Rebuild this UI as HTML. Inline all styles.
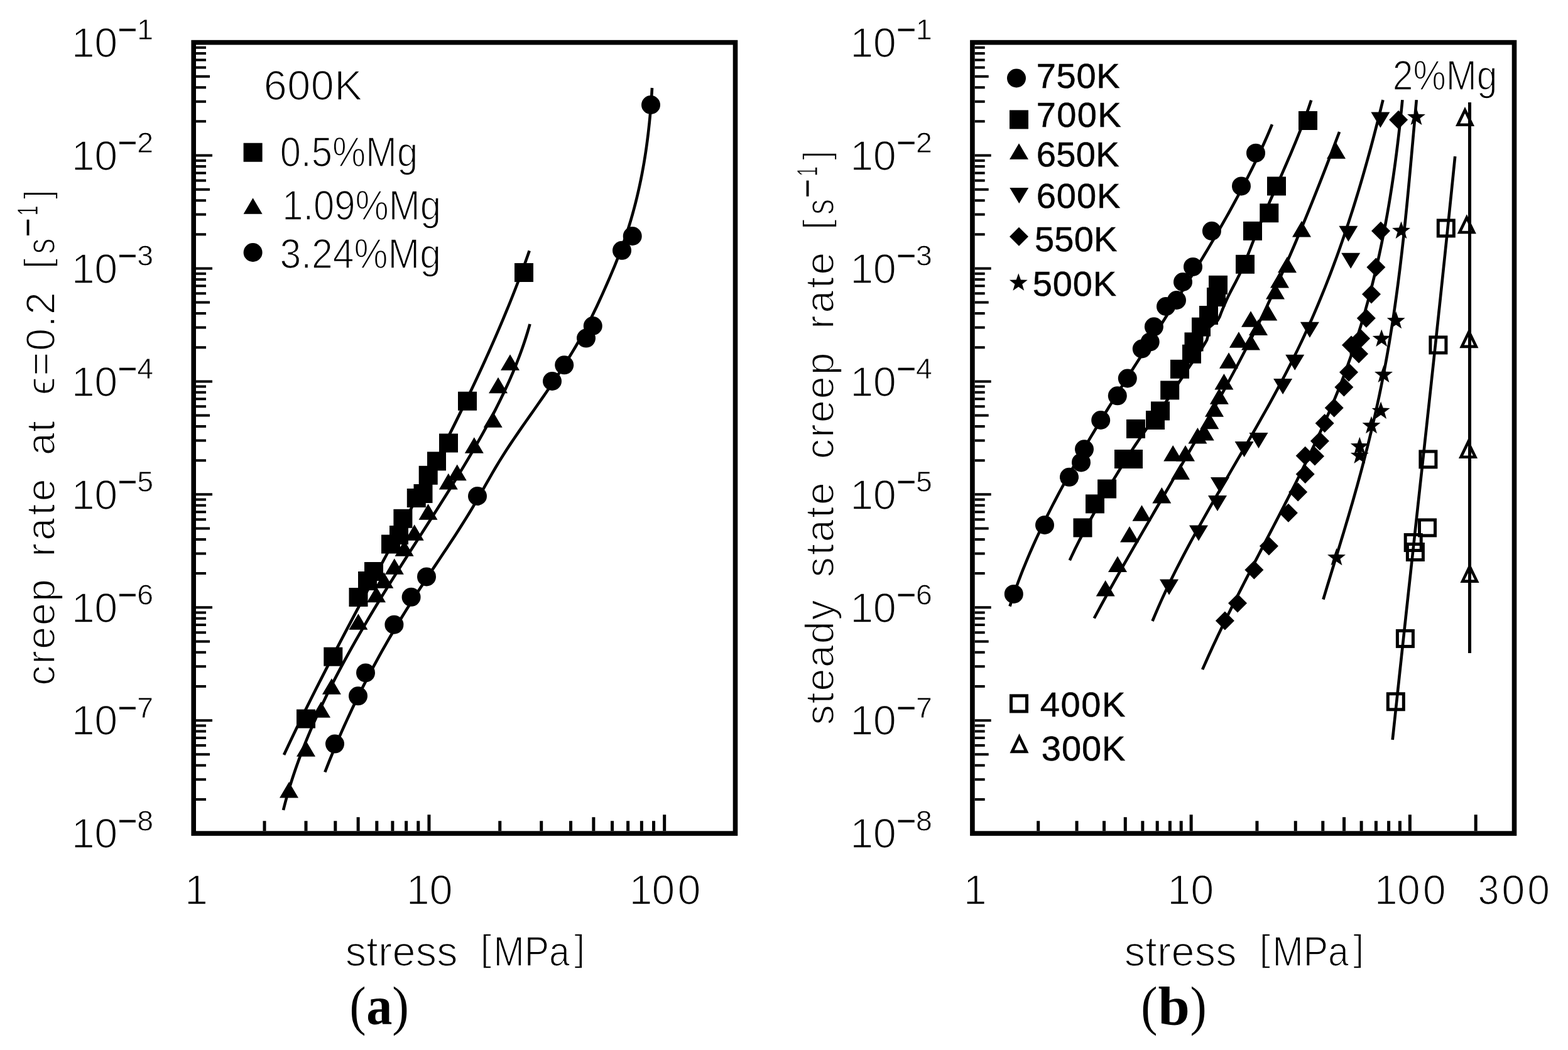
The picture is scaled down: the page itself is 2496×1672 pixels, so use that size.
<!DOCTYPE html><html><head><meta charset="utf-8"><style>html,body{margin:0;padding:0;background:#fff}svg{display:block}</style></head><body><svg width="2496" height="1672" viewBox="0 0 2496 1672">
<style>text{font-family:"Liberation Sans",Arial,sans-serif;fill:#000;font-kerning:none;font-variant-ligatures:none}.thin{stroke:#fff;stroke-width:1.7px}.thins{stroke:#fff;stroke-width:0.8px}.bold{font-family:"Liberation Serif","Times New Roman",serif;font-weight:bold}.ser{font-family:"Liberation Serif","Times New Roman",serif}.thick{stroke:#000;stroke-width:0.4px}.reg{stroke:#000;stroke-width:0.5px}</style>
<rect width="2496" height="1672" fill="#fff"/>
<rect x="308.2" y="67.6" width="862.3" height="1259.5" fill="none" stroke="#000" stroke-width="7.6"/>
<rect x="1547.9" y="67.6" width="862.6" height="1259.5" fill="none" stroke="#000" stroke-width="7.6"/>
<path d="M312 1272.94h16M312 1241.25h16M312 1218.77h16M312 1201.34h22M312 1187.09h16M312 1175.04h16M312 1164.61h16M312 1155.4h16M312 1147.17h26M312 1093.01h16M312 1061.32h16M312 1038.84h16M312 1021.41h22M312 1007.16h16M312 995.11h16M312 984.68h16M312 975.48h16M312 967.24h26M312 913.08h16M312 881.4h16M312 858.92h16M312 841.48h22M312 827.23h16M312 815.19h16M312 804.75h16M312 795.55h16M312 787.31h26M312 733.15h16M312 701.47h16M312 678.99h16M312 661.55h22M312 647.3h16M312 635.26h16M312 624.82h16M312 615.62h16M312 607.39h26M312 553.22h16M312 521.54h16M312 499.06h16M312 481.62h22M312 467.37h16M312 455.33h16M312 444.89h16M312 435.69h16M312 427.46h26M312 373.29h16M312 341.61h16M312 319.13h16M312 301.69h22M312 287.45h16M312 275.4h16M312 264.97h16M312 255.76h16M312 247.53h26M312 193.36h16M312 161.68h16M312 139.2h16M312 121.76h22M312 107.52h16M312 95.47h16M312 85.04h16M312 75.83h16" stroke="#000" stroke-width="4" fill="none"/>
<path d="M1551.7 1272.94h16M1551.7 1241.25h16M1551.7 1218.77h16M1551.7 1201.34h22M1551.7 1187.09h16M1551.7 1175.04h16M1551.7 1164.61h16M1551.7 1155.4h16M1551.7 1147.17h26M1551.7 1093.01h16M1551.7 1061.32h16M1551.7 1038.84h16M1551.7 1021.41h22M1551.7 1007.16h16M1551.7 995.11h16M1551.7 984.68h16M1551.7 975.48h16M1551.7 967.24h26M1551.7 913.08h16M1551.7 881.4h16M1551.7 858.92h16M1551.7 841.48h22M1551.7 827.23h16M1551.7 815.19h16M1551.7 804.75h16M1551.7 795.55h16M1551.7 787.31h26M1551.7 733.15h16M1551.7 701.47h16M1551.7 678.99h16M1551.7 661.55h22M1551.7 647.3h16M1551.7 635.26h16M1551.7 624.82h16M1551.7 615.62h16M1551.7 607.39h26M1551.7 553.22h16M1551.7 521.54h16M1551.7 499.06h16M1551.7 481.62h22M1551.7 467.37h16M1551.7 455.33h16M1551.7 444.89h16M1551.7 435.69h16M1551.7 427.46h26M1551.7 373.29h16M1551.7 341.61h16M1551.7 319.13h16M1551.7 301.69h22M1551.7 287.45h16M1551.7 275.4h16M1551.7 264.97h16M1551.7 255.76h16M1551.7 247.53h26M1551.7 193.36h16M1551.7 161.68h16M1551.7 139.2h16M1551.7 121.76h22M1551.7 107.52h16M1551.7 95.47h16M1551.7 85.04h16M1551.7 75.83h16" stroke="#000" stroke-width="4" fill="none"/>
<path d="M421.01 1323.3v-16M487 1323.3v-16M533.82 1323.3v-16M570.14 1323.3v-22M599.81 1323.3v-16M624.9 1323.3v-16M646.63 1323.3v-16M665.8 1323.3v-16M682.95 1323.3v-26M795.75 1323.3v-16M861.74 1323.3v-16M908.56 1323.3v-16M944.88 1323.3v-22M974.55 1323.3v-16M999.64 1323.3v-16M1021.37 1323.3v-16M1040.54 1323.3v-16M1057.69 1323.3v-26" stroke="#000" stroke-width="5" fill="none"/>
<path d="M1652.73 1323.3v-16M1714.05 1323.3v-16M1757.55 1323.3v-16M1791.3 1323.3v-22M1818.87 1323.3v-16M1842.19 1323.3v-16M1862.38 1323.3v-16M1880.19 1323.3v-16M1896.13 1323.3v-26M2000.95 1323.3v-16M2062.27 1323.3v-16M2105.78 1323.3v-16M2139.53 1323.3v-22M2167.1 1323.3v-16M2190.41 1323.3v-16M2210.61 1323.3v-16M2228.42 1323.3v-16M2244.35 1323.3v-26M2349.18 1323.3v-26" stroke="#000" stroke-width="5" fill="none"/>
<text x="113.74" y="90.9" font-size="66.5" class="thin">1</text>
<text x="150.2" y="90.9" font-size="66.5" class="thin" textLength="37" lengthAdjust="spacingAndGlyphs">0</text>
<text x="187.6" y="63.3" font-size="46.5" class="thick" textLength="30.77" lengthAdjust="spacingAndGlyphs">−</text>
<text x="231.3" y="63.3" font-size="46.5" class="thins" text-anchor="middle">1</text>
<text x="113.74" y="270.83" font-size="66.5" class="thin">1</text>
<text x="150.2" y="270.83" font-size="66.5" class="thin" textLength="37" lengthAdjust="spacingAndGlyphs">0</text>
<text x="187.6" y="243.23" font-size="46.5" class="thick" textLength="30.77" lengthAdjust="spacingAndGlyphs">−</text>
<text x="231.3" y="243.23" font-size="46.5" class="thins" text-anchor="middle">2</text>
<text x="113.74" y="450.76" font-size="66.5" class="thin">1</text>
<text x="150.2" y="450.76" font-size="66.5" class="thin" textLength="37" lengthAdjust="spacingAndGlyphs">0</text>
<text x="187.6" y="423.16" font-size="46.5" class="thick" textLength="30.77" lengthAdjust="spacingAndGlyphs">−</text>
<text x="231.3" y="423.16" font-size="46.5" class="thins" text-anchor="middle">3</text>
<text x="113.74" y="630.69" font-size="66.5" class="thin">1</text>
<text x="150.2" y="630.69" font-size="66.5" class="thin" textLength="37" lengthAdjust="spacingAndGlyphs">0</text>
<text x="187.6" y="603.09" font-size="46.5" class="thick" textLength="30.77" lengthAdjust="spacingAndGlyphs">−</text>
<text x="231.3" y="603.09" font-size="46.5" class="thins" text-anchor="middle">4</text>
<text x="113.74" y="810.61" font-size="66.5" class="thin">1</text>
<text x="150.2" y="810.61" font-size="66.5" class="thin" textLength="37" lengthAdjust="spacingAndGlyphs">0</text>
<text x="187.6" y="783.01" font-size="46.5" class="thick" textLength="30.77" lengthAdjust="spacingAndGlyphs">−</text>
<text x="231.3" y="783.01" font-size="46.5" class="thins" text-anchor="middle">5</text>
<text x="113.74" y="990.54" font-size="66.5" class="thin">1</text>
<text x="150.2" y="990.54" font-size="66.5" class="thin" textLength="37" lengthAdjust="spacingAndGlyphs">0</text>
<text x="187.6" y="962.94" font-size="46.5" class="thick" textLength="30.77" lengthAdjust="spacingAndGlyphs">−</text>
<text x="231.3" y="962.94" font-size="46.5" class="thins" text-anchor="middle">6</text>
<text x="113.74" y="1170.47" font-size="66.5" class="thin">1</text>
<text x="150.2" y="1170.47" font-size="66.5" class="thin" textLength="37" lengthAdjust="spacingAndGlyphs">0</text>
<text x="187.6" y="1142.87" font-size="46.5" class="thick" textLength="30.77" lengthAdjust="spacingAndGlyphs">−</text>
<text x="231.3" y="1142.87" font-size="46.5" class="thins" text-anchor="middle">7</text>
<text x="113.74" y="1350.4" font-size="66.5" class="thin">1</text>
<text x="150.2" y="1350.4" font-size="66.5" class="thin" textLength="37" lengthAdjust="spacingAndGlyphs">0</text>
<text x="187.6" y="1322.8" font-size="46.5" class="thick" textLength="30.77" lengthAdjust="spacingAndGlyphs">−</text>
<text x="231.3" y="1322.8" font-size="46.5" class="thins" text-anchor="middle">8</text>
<text x="1353.34" y="90.9" font-size="66.5" class="thin">1</text>
<text x="1389.8" y="90.9" font-size="66.5" class="thin" textLength="37" lengthAdjust="spacingAndGlyphs">0</text>
<text x="1427.2" y="63.3" font-size="46.5" class="thick" textLength="30.77" lengthAdjust="spacingAndGlyphs">−</text>
<text x="1470.9" y="63.3" font-size="46.5" class="thins" text-anchor="middle">1</text>
<text x="1353.34" y="270.83" font-size="66.5" class="thin">1</text>
<text x="1389.8" y="270.83" font-size="66.5" class="thin" textLength="37" lengthAdjust="spacingAndGlyphs">0</text>
<text x="1427.2" y="243.23" font-size="46.5" class="thick" textLength="30.77" lengthAdjust="spacingAndGlyphs">−</text>
<text x="1470.9" y="243.23" font-size="46.5" class="thins" text-anchor="middle">2</text>
<text x="1353.34" y="450.76" font-size="66.5" class="thin">1</text>
<text x="1389.8" y="450.76" font-size="66.5" class="thin" textLength="37" lengthAdjust="spacingAndGlyphs">0</text>
<text x="1427.2" y="423.16" font-size="46.5" class="thick" textLength="30.77" lengthAdjust="spacingAndGlyphs">−</text>
<text x="1470.9" y="423.16" font-size="46.5" class="thins" text-anchor="middle">3</text>
<text x="1353.34" y="630.69" font-size="66.5" class="thin">1</text>
<text x="1389.8" y="630.69" font-size="66.5" class="thin" textLength="37" lengthAdjust="spacingAndGlyphs">0</text>
<text x="1427.2" y="603.09" font-size="46.5" class="thick" textLength="30.77" lengthAdjust="spacingAndGlyphs">−</text>
<text x="1470.9" y="603.09" font-size="46.5" class="thins" text-anchor="middle">4</text>
<text x="1353.34" y="810.61" font-size="66.5" class="thin">1</text>
<text x="1389.8" y="810.61" font-size="66.5" class="thin" textLength="37" lengthAdjust="spacingAndGlyphs">0</text>
<text x="1427.2" y="783.01" font-size="46.5" class="thick" textLength="30.77" lengthAdjust="spacingAndGlyphs">−</text>
<text x="1470.9" y="783.01" font-size="46.5" class="thins" text-anchor="middle">5</text>
<text x="1353.34" y="990.54" font-size="66.5" class="thin">1</text>
<text x="1389.8" y="990.54" font-size="66.5" class="thin" textLength="37" lengthAdjust="spacingAndGlyphs">0</text>
<text x="1427.2" y="962.94" font-size="46.5" class="thick" textLength="30.77" lengthAdjust="spacingAndGlyphs">−</text>
<text x="1470.9" y="962.94" font-size="46.5" class="thins" text-anchor="middle">6</text>
<text x="1353.34" y="1170.47" font-size="66.5" class="thin">1</text>
<text x="1389.8" y="1170.47" font-size="66.5" class="thin" textLength="37" lengthAdjust="spacingAndGlyphs">0</text>
<text x="1427.2" y="1142.87" font-size="46.5" class="thick" textLength="30.77" lengthAdjust="spacingAndGlyphs">−</text>
<text x="1470.9" y="1142.87" font-size="46.5" class="thins" text-anchor="middle">7</text>
<text x="1353.34" y="1350.4" font-size="66.5" class="thin">1</text>
<text x="1389.8" y="1350.4" font-size="66.5" class="thin" textLength="37" lengthAdjust="spacingAndGlyphs">0</text>
<text x="1427.2" y="1322.8" font-size="46.5" class="thick" textLength="30.77" lengthAdjust="spacingAndGlyphs">−</text>
<text x="1470.9" y="1322.8" font-size="46.5" class="thins" text-anchor="middle">8</text>
<text x="293.94" y="1440.2" font-size="66.5" class="thin">1</text>
<text x="646.64" y="1440.2" font-size="66.5" class="thin">1</text>
<text x="683.49" y="1440.2" font-size="66.5" class="thin" textLength="37.11" lengthAdjust="spacingAndGlyphs">0</text>
<text x="1001.44" y="1440.2" font-size="66.5" class="thin">1</text>
<text x="1037.62" y="1440.2" font-size="66.5" class="thin" textLength="36.76" lengthAdjust="spacingAndGlyphs">0</text>
<text x="1078.4" y="1440.2" font-size="66.5" class="thin" textLength="37" lengthAdjust="spacingAndGlyphs">0</text>
<text x="1533.84" y="1440.2" font-size="66.5" class="thin">1</text>
<text x="1858.34" y="1440.2" font-size="66.5" class="thin">1</text>
<text x="1895.19" y="1440.2" font-size="66.5" class="thin" textLength="37.11" lengthAdjust="spacingAndGlyphs">0</text>
<text x="2187.84" y="1440.2" font-size="66.5" class="thin">1</text>
<text x="2224.02" y="1440.2" font-size="66.5" class="thin" textLength="36.76" lengthAdjust="spacingAndGlyphs">0</text>
<text x="2264.8" y="1440.2" font-size="66.5" class="thin" textLength="37" lengthAdjust="spacingAndGlyphs">0</text>
<text x="2352.58" y="1440.2" font-size="66.5" class="thin" textLength="33.9" lengthAdjust="spacingAndGlyphs">3</text>
<text x="2390.19" y="1440.2" font-size="66.5" class="thin" textLength="37.23" lengthAdjust="spacingAndGlyphs">0</text>
<text x="2431.28" y="1440.2" font-size="66.5" class="thin" textLength="35.83" lengthAdjust="spacingAndGlyphs">0</text>
<text x="549.75" y="1538" font-size="66.5" class="thin" letter-spacing="0.3">stress</text>
<text x="764.34" y="1530.4" font-size="58.7" class="thin" textLength="18.17" lengthAdjust="spacingAndGlyphs">[</text>
<text x="785.45" y="1538" font-size="66.5" class="thin" textLength="121.55" lengthAdjust="spacingAndGlyphs">MPa</text>
<text x="914.01" y="1530.4" font-size="58.7" class="thin" textLength="17.48" lengthAdjust="spacingAndGlyphs">]</text>
<text x="1789.75" y="1538" font-size="66.5" class="thin" letter-spacing="0.3">stress</text>
<text x="2004.34" y="1530.4" font-size="58.7" class="thin" textLength="18.17" lengthAdjust="spacingAndGlyphs">[</text>
<text x="2025.45" y="1538" font-size="66.5" class="thin" textLength="121.55" lengthAdjust="spacingAndGlyphs">MPa</text>
<text x="2154.01" y="1530.4" font-size="58.7" class="thin" textLength="17.48" lengthAdjust="spacingAndGlyphs">]</text>
<text x="556.46" y="1630.9" font-size="86.6" class="ser" textLength="26.06" lengthAdjust="spacingAndGlyphs">(</text>
<text x="583.35" y="1630.6" font-size="86" class="bold" textLength="41.09" lengthAdjust="spacingAndGlyphs">a</text>
<text x="624.23" y="1630.9" font-size="86.6" class="ser" textLength="26.58" lengthAdjust="spacingAndGlyphs">)</text>
<text x="1816.14" y="1630.9" font-size="86.6" class="ser" textLength="26.19" lengthAdjust="spacingAndGlyphs">(</text>
<text x="1843.45" y="1630.6" font-size="86" class="bold" textLength="50.43" lengthAdjust="spacingAndGlyphs">b</text>
<text x="1894.47" y="1630.9" font-size="86.6" class="ser" textLength="26.19" lengthAdjust="spacingAndGlyphs">)</text>
<g transform="translate(86.9 0) rotate(-90)">
<text x="-1091.74" y="0" font-size="64.5" class="thin" letter-spacing="2.08">creep</text>
<text x="-886.58" y="0" font-size="64.5" class="thin" letter-spacing="4.34">rate</text>
<text x="-724.94" y="0" font-size="64.5" class="thin" letter-spacing="1.12">at</text>
<text x="-629.02" y="0" font-size="64.5" class="thin" letter-spacing="2.03">ϵ=0.2</text>
<text x="-428.34" y="-7.1" font-size="58.7" class="thin" textLength="16.92" lengthAdjust="spacingAndGlyphs">[</text>
<text x="-404.4" y="0" font-size="64.5" class="thin" textLength="25.23" lengthAdjust="spacingAndGlyphs">s</text>
<text x="-377.32" y="-26.5" font-size="46.5" class="thick" textLength="29.81" lengthAdjust="spacingAndGlyphs">−</text>
<text x="-343.16" y="-26.5" font-size="46.5" class="thins" textLength="15.74" lengthAdjust="spacingAndGlyphs">1</text>
<text x="-317.22" y="-7.1" font-size="58.7" class="thin" textLength="14.96" lengthAdjust="spacingAndGlyphs">]</text>
</g>
<g transform="translate(1327 0) rotate(-90)">
<text x="-1154.5" y="0" font-size="64.5" class="thin" letter-spacing="1.86">steady</text>
<text x="-919.2" y="0" font-size="64.5" class="thin" letter-spacing="2.83">state</text>
<text x="-730.94" y="0" font-size="64.5" class="thin" letter-spacing="2.05">creep</text>
<text x="-523.78" y="0" font-size="64.5" class="thin" letter-spacing="3.67">rate</text>
<text x="-366.04" y="-7.1" font-size="58.7" class="thin" textLength="16.92" lengthAdjust="spacingAndGlyphs">[</text>
<text x="-342.1" y="0" font-size="64.5" class="thin" textLength="25.23" lengthAdjust="spacingAndGlyphs">s</text>
<text x="-315.02" y="-26.5" font-size="46.5" class="thick" textLength="29.81" lengthAdjust="spacingAndGlyphs">−</text>
<text x="-280.86" y="-26.5" font-size="46.5" class="thins" textLength="15.74" lengthAdjust="spacingAndGlyphs">1</text>
<text x="-254.92" y="-7.1" font-size="58.7" class="thin" textLength="14.96" lengthAdjust="spacingAndGlyphs">]</text>
</g>
<text x="419.72" y="159.2" font-size="66.5" class="thin" letter-spacing="0.51">600K</text>
<text x="445.76" y="265.2" font-size="66.5" class="thin" textLength="219.39" lengthAdjust="spacingAndGlyphs">0.5%Mg</text>
<text x="449.14" y="350" font-size="66.5" class="thin" textLength="252.82" lengthAdjust="spacingAndGlyphs">1.09%Mg</text>
<text x="445.39" y="427" font-size="66.5" class="thin" textLength="256.63" lengthAdjust="spacingAndGlyphs">3.24%Mg</text>
<text x="2216.84" y="143" font-size="66.5" class="thin" textLength="166.75" lengthAdjust="spacingAndGlyphs">2%Mg</text>
<text x="1649.73" y="139.8" font-size="56" class="reg" letter-spacing="0.7">750K</text>
<text x="1649.73" y="202.4" font-size="56" class="reg" letter-spacing="1.37">700K</text>
<text x="1649.76" y="264.9" font-size="56" class="reg" letter-spacing="0.36">650K</text>
<text x="1649.76" y="330.8" font-size="56" class="reg" letter-spacing="0.93">600K</text>
<text x="1646.96" y="400.2" font-size="56" class="reg" letter-spacing="0.23">550K</text>
<text x="1643.76" y="470.6" font-size="56" class="reg" letter-spacing="0.86">500K</text>
<text x="1655.81" y="1140.5" font-size="56" class="reg" letter-spacing="1.58">400K</text>
<text x="1657.87" y="1210.7" font-size="56" class="reg" letter-spacing="0.89">300K</text>
<path d="M842.7 399.3 L840.35 406.05 L837.96 412.79 L835.55 419.54 L833.1 426.28 L830.61 433.03 L828.1 439.77 L825.55 446.52 L822.97 453.26 L820.36 460.01 L817.72 466.75 L815.05 473.5 L812.36 480.24 L809.63 486.99 L806.87 493.74 L804.09 500.48 L801.28 507.23 L798.44 513.97 L795.58 520.72 L792.69 527.46 L789.77 534.21 L786.83 540.95 L783.87 547.7 L780.88 554.44 L777.86 561.19 L774.83 567.93 L771.77 574.68 L768.69 581.43 L765.59 588.17 L762.46 594.92 L759.31 601.66 L756.15 608.41 L752.96 615.15 L749.76 621.9 L746.53 628.64 L743.29 635.39 L740.03 642.13 L736.75 648.88 L733.45 655.62 L730.14 662.37 L726.81 669.12 L723.47 675.86 L720.11 682.61 L716.73 689.35 L713.34 696.1 L709.94 702.84 L706.52 709.59 L703.09 716.33 L699.65 723.08 L696.2 729.82 L692.73 736.57 L689.25 743.31 L685.76 750.06 L682.27 756.81 L678.76 763.55 L675.24 770.3 L671.71 777.04 L668.18 783.79 L664.64 790.53 L661.09 797.28 L657.53 804.02 L653.97 810.77 L650.4 817.51 L646.82 824.26 L643.24 831 L639.66 837.75 L636.07 844.49 L632.47 851.24 L628.88 857.99 L625.28 864.73 L621.68 871.48 L618.07 878.22 L614.47 884.97 L610.86 891.71 L607.26 898.46 L603.65 905.2 L600.05 911.95 L596.44 918.69 L592.84 925.44 L589.24 932.18 L585.64 938.93 L582.04 945.68 L578.45 952.42 L574.86 959.17 L571.27 965.91 L567.69 972.66 L564.12 979.4 L560.55 986.15 L556.98 992.89 L553.42 999.64 L549.87 1006.38 L546.33 1013.13 L542.79 1019.87 L539.27 1026.62 L535.75 1033.37 L532.24 1040.11 L528.74 1046.86 L525.25 1053.6 L521.77 1060.35 L518.3 1067.09 L514.85 1073.84 L511.4 1080.58 L507.97 1087.33 L504.55 1094.07 L501.15 1100.82 L497.76 1107.56 L494.38 1114.31 L491.02 1121.06 L487.67 1127.8 L484.34 1134.55 L481.03 1141.29 L477.73 1148.04 L474.45 1154.78 L471.18 1161.53 L467.94 1168.27 L464.71 1175.02 L461.5 1181.76 L458.32 1188.51 L455.15 1195.25 L452 1202" fill="none" stroke="#000" stroke-width="4.6" stroke-linejoin="round" stroke-linecap="butt"/>
<path d="M843.5 516 L841.67 522.5 L839.75 529.01 L837.74 535.51 L835.65 542.02 L833.47 548.52 L831.21 555.03 L828.87 561.53 L826.44 568.03 L823.94 574.54 L821.37 581.04 L818.72 587.55 L816 594.05 L813.21 600.55 L810.35 607.06 L807.42 613.56 L804.43 620.07 L801.37 626.57 L798.25 633.08 L795.07 639.58 L791.84 646.08 L788.55 652.59 L785.2 659.09 L781.8 665.6 L778.35 672.1 L774.85 678.61 L771.3 685.11 L767.71 691.61 L764.07 698.12 L760.39 704.62 L756.67 711.13 L752.91 717.63 L749.11 724.13 L745.28 730.64 L741.41 737.14 L737.52 743.65 L733.59 750.15 L729.63 756.66 L725.65 763.16 L721.65 769.66 L717.62 776.17 L713.57 782.67 L709.5 789.18 L705.41 795.68 L701.3 802.18 L697.19 808.69 L693.06 815.19 L688.91 821.7 L684.76 828.2 L680.61 834.71 L676.45 841.21 L672.28 847.71 L668.11 854.22 L663.94 860.72 L659.78 867.23 L655.62 873.73 L651.46 880.24 L647.31 886.74 L643.17 893.24 L639.04 899.75 L634.92 906.25 L630.81 912.76 L626.72 919.26 L622.65 925.76 L618.6 932.27 L614.56 938.77 L610.55 945.28 L606.56 951.78 L602.6 958.29 L598.65 964.79 L594.73 971.29 L590.84 977.8 L586.97 984.3 L583.13 990.81 L579.31 997.31 L575.53 1003.82 L571.77 1010.32 L568.05 1016.82 L564.36 1023.33 L560.7 1029.83 L557.07 1036.34 L553.48 1042.84 L549.92 1049.34 L546.4 1055.85 L542.91 1062.35 L539.46 1068.86 L536.05 1075.36 L532.69 1081.87 L529.36 1088.37 L526.07 1094.87 L522.82 1101.38 L519.62 1107.88 L516.46 1114.39 L513.35 1120.89 L510.28 1127.39 L507.26 1133.9 L504.28 1140.4 L501.35 1146.91 L498.48 1153.41 L495.65 1159.92 L492.87 1166.42 L490.15 1172.92 L487.48 1179.43 L484.86 1185.93 L482.3 1192.44 L479.79 1198.94 L477.34 1205.45 L474.95 1211.95 L472.61 1218.45 L470.33 1224.96 L468.12 1231.46 L465.96 1237.97 L463.86 1244.47 L461.83 1250.97 L459.86 1257.48 L457.96 1263.98 L456.12 1270.49 L454.35 1276.99 L452.64 1283.5 L451 1290" fill="none" stroke="#000" stroke-width="4.6" stroke-linejoin="round" stroke-linecap="butt"/>
<path d="M1038 140 L1037.46 149.16 L1036.86 158.31 L1036.2 167.47 L1035.46 176.62 L1034.65 185.78 L1033.76 194.93 L1032.79 204.09 L1031.74 213.24 L1030.61 222.4 L1029.39 231.55 L1028.08 240.71 L1026.67 249.87 L1025.17 259.02 L1023.56 268.18 L1021.86 277.33 L1020.04 286.49 L1018.12 295.64 L1016.09 304.8 L1013.94 313.95 L1011.68 323.11 L1009.3 332.26 L1006.79 341.42 L1004.15 350.58 L1001.39 359.73 L998.49 368.89 L995.46 378.04 L992.29 387.2 L988.98 396.35 L985.53 405.51 L981.95 414.66 L978.24 423.82 L974.43 432.97 L970.53 442.13 L966.54 451.29 L962.49 460.44 L958.37 469.6 L954.2 478.75 L949.94 487.91 L945.57 497.06 L941.08 506.22 L936.44 515.37 L931.63 524.53 L926.66 533.68 L921.51 542.84 L916.22 552 L910.77 561.15 L905.19 570.31 L899.47 579.46 L893.63 588.62 L887.68 597.77 L881.62 606.93 L875.46 616.08 L869.22 625.24 L862.89 634.39 L856.5 643.55 L850.08 652.71 L843.64 661.86 L837.22 671.02 L830.83 680.17 L824.49 689.33 L818.25 698.48 L812.1 707.64 L806.09 716.79 L800.23 725.95 L794.55 735.11 L789.05 744.26 L783.7 753.42 L778.45 762.57 L773.26 771.73 L768.08 780.88 L762.87 790.04 L757.59 799.19 L752.19 808.35 L746.67 817.5 L741.02 826.66 L735.26 835.82 L729.42 844.97 L723.49 854.13 L717.5 863.28 L711.47 872.44 L705.39 881.59 L699.29 890.75 L693.18 899.9 L687.08 909.06 L680.99 918.21 L674.94 927.37 L668.93 936.53 L662.98 945.68 L657.11 954.84 L651.31 963.99 L645.59 973.15 L639.96 982.3 L634.4 991.46 L628.93 1000.61 L623.53 1009.77 L618.21 1018.92 L612.97 1028.08 L607.82 1037.24 L602.74 1046.39 L597.73 1055.55 L592.81 1064.7 L587.96 1073.86 L583.19 1083.01 L578.5 1092.17 L573.89 1101.32 L569.35 1110.48 L564.89 1119.63 L560.51 1128.79 L556.21 1137.95 L551.98 1147.1 L547.82 1156.26 L543.74 1165.41 L539.74 1174.57 L535.81 1183.72 L531.96 1192.88 L528.18 1202.03 L524.48 1211.19 L520.85 1220.34 L517.3 1229.5" fill="none" stroke="#000" stroke-width="4.6" stroke-linejoin="round" stroke-linecap="butt"/>
<path d="M2025 198.2 L2022.31 204.65 L2019.58 211.1 L2016.79 217.54 L2013.95 223.99 L2011.06 230.44 L2008.12 236.89 L2005.13 243.34 L2002.1 249.78 L1999.02 256.23 L1995.9 262.68 L1992.74 269.13 L1989.53 275.57 L1986.28 282.02 L1982.99 288.47 L1979.66 294.92 L1976.29 301.37 L1972.89 307.81 L1969.44 314.26 L1965.97 320.71 L1962.45 327.16 L1958.91 333.61 L1955.33 340.05 L1951.72 346.5 L1948.08 352.95 L1944.4 359.4 L1940.7 365.85 L1936.98 372.29 L1933.22 378.74 L1929.44 385.19 L1925.64 391.64 L1921.81 398.08 L1917.96 404.53 L1914.08 410.98 L1910.19 417.43 L1906.28 423.88 L1902.34 430.32 L1898.39 436.77 L1894.43 443.22 L1890.44 449.67 L1886.44 456.12 L1882.43 462.56 L1878.41 469.01 L1874.37 475.46 L1870.32 481.91 L1866.26 488.36 L1862.2 494.8 L1858.12 501.25 L1854.04 507.7 L1849.95 514.15 L1845.86 520.59 L1841.76 527.04 L1837.66 533.49 L1833.55 539.94 L1829.45 546.39 L1825.35 552.83 L1821.24 559.28 L1817.14 565.73 L1813.04 572.18 L1808.95 578.63 L1804.86 585.07 L1800.78 591.52 L1796.7 597.97 L1792.63 604.42 L1788.57 610.87 L1784.52 617.31 L1780.48 623.76 L1776.45 630.21 L1772.43 636.66 L1768.43 643.11 L1764.44 649.55 L1760.47 656 L1756.51 662.45 L1752.57 668.9 L1748.65 675.34 L1744.75 681.79 L1740.88 688.24 L1737.02 694.69 L1733.18 701.14 L1729.37 707.58 L1725.58 714.03 L1721.82 720.48 L1718.09 726.93 L1714.38 733.38 L1710.7 739.82 L1707.05 746.27 L1703.43 752.72 L1699.84 759.17 L1696.29 765.62 L1692.76 772.06 L1689.28 778.51 L1685.82 784.96 L1682.41 791.41 L1679.03 797.85 L1675.69 804.3 L1672.39 810.75 L1669.12 817.2 L1665.9 823.65 L1662.73 830.09 L1659.59 836.54 L1656.5 842.99 L1653.46 849.44 L1650.46 855.89 L1647.51 862.33 L1644.6 868.78 L1641.75 875.23 L1638.95 881.68 L1636.19 888.13 L1633.49 894.57 L1630.84 901.02 L1628.25 907.47 L1625.71 913.92 L1623.23 920.36 L1620.8 926.81 L1618.43 933.26 L1616.13 939.71 L1613.88 946.16 L1611.69 952.6 L1609.56 959.05 L1607.5 965.5" fill="none" stroke="#000" stroke-width="4.6" stroke-linejoin="round" stroke-linecap="butt"/>
<path d="M2087.2 159.6 L2085.16 165.76 L2083.06 171.91 L2080.9 178.07 L2078.69 184.23 L2076.42 190.39 L2074.11 196.54 L2071.75 202.7 L2069.35 208.86 L2066.9 215.01 L2064.42 221.17 L2061.9 227.33 L2059.35 233.49 L2056.78 239.64 L2054.17 245.8 L2051.54 251.96 L2048.89 258.11 L2046.23 264.27 L2043.55 270.43 L2040.86 276.59 L2038.15 282.74 L2035.45 288.9 L2032.73 295.06 L2030.02 301.21 L2027.31 307.37 L2024.61 313.53 L2021.91 319.69 L2019.23 325.84 L2016.56 332 L2013.9 338.16 L2011.27 344.31 L2008.66 350.47 L2006.07 356.63 L2003.51 362.79 L2000.98 368.94 L1998.49 375.1 L1996.03 381.26 L1993.61 387.41 L1991.22 393.57 L1988.84 399.73 L1986.43 405.89 L1983.98 412.04 L1981.46 418.2 L1978.85 424.36 L1976.11 430.51 L1973.23 436.67 L1970.2 442.83 L1967.04 448.99 L1963.79 455.14 L1960.51 461.3 L1957.35 467.46 L1954.35 473.61 L1951.52 479.77 L1948.83 485.93 L1946.26 492.09 L1943.8 498.24 L1941.48 504.4 L1938.09 510.56 L1930.33 516.71 L1923.16 522.87 L1921.92 529.03 L1922.67 535.19 L1921.12 541.34 L1917.58 547.5 L1913.74 553.66 L1909.72 559.81 L1905.57 565.97 L1901.35 572.13 L1897.11 578.29 L1892.9 584.44 L1888.76 590.6 L1884.66 596.76 L1880.61 602.91 L1876.58 609.07 L1872.55 615.23 L1868.5 621.39 L1864.43 627.54 L1860.3 633.7 L1856.11 639.86 L1851.84 646.01 L1847.47 652.17 L1843.02 658.33 L1838.51 664.49 L1833.99 670.64 L1829.49 676.8 L1825.03 682.96 L1820.65 689.11 L1816.36 695.27 L1812.13 701.43 L1807.98 707.59 L1803.89 713.74 L1799.87 719.9 L1795.9 726.06 L1791.99 732.21 L1788.13 738.37 L1784.31 744.53 L1780.53 750.69 L1776.79 756.84 L1773.08 763 L1769.4 769.16 L1765.75 775.31 L1762.11 781.47 L1758.49 787.63 L1754.9 793.79 L1751.33 799.94 L1747.79 806.1 L1744.28 812.26 L1740.8 818.41 L1737.36 824.57 L1733.96 830.73 L1730.6 836.89 L1727.29 843.04 L1724.03 849.2 L1720.81 855.36 L1717.66 861.51 L1714.56 867.67 L1711.52 873.83 L1708.55 879.99 L1705.64 886.14 L1702.8 892.3" fill="none" stroke="#000" stroke-width="4.6" stroke-linejoin="round" stroke-linecap="butt"/>
<path d="M2132.1 210 L2129.64 216.51 L2127.18 223.02 L2124.71 229.53 L2122.24 236.03 L2119.75 242.54 L2117.26 249.05 L2114.76 255.56 L2112.25 262.07 L2109.74 268.58 L2107.21 275.08 L2104.68 281.59 L2102.13 288.1 L2099.57 294.61 L2097 301.12 L2094.42 307.63 L2091.83 314.13 L2089.23 320.64 L2086.61 327.15 L2083.98 333.66 L2081.34 340.17 L2078.68 346.68 L2076 353.18 L2073.32 359.69 L2070.61 366.2 L2067.89 372.71 L2065.16 379.22 L2062.41 385.73 L2059.64 392.24 L2056.85 398.74 L2054.04 405.25 L2051.22 411.76 L2048.38 418.27 L2045.52 424.78 L2042.64 431.29 L2039.74 437.79 L2036.81 444.3 L2033.87 450.81 L2030.91 457.32 L2027.92 463.83 L2024.91 470.34 L2021.88 476.84 L2018.83 483.35 L2015.75 489.86 L2012.65 496.37 L2009.52 502.88 L2006.37 509.39 L2003.19 515.89 L1999.99 522.4 L1996.76 528.91 L1993.51 535.42 L1990.23 541.93 L1986.92 548.44 L1983.59 554.95 L1980.23 561.45 L1976.85 567.96 L1973.45 574.47 L1970.02 580.98 L1966.57 587.49 L1963.1 594 L1959.61 600.5 L1956.1 607.01 L1952.57 613.52 L1949.02 620.03 L1945.46 626.54 L1941.87 633.05 L1938.27 639.55 L1934.66 646.06 L1931.03 652.57 L1927.38 659.08 L1923.72 665.59 L1920.05 672.1 L1916.37 678.61 L1912.67 685.11 L1908.97 691.62 L1905.25 698.13 L1901.52 704.64 L1897.78 711.15 L1894.04 717.66 L1890.29 724.16 L1886.53 730.67 L1882.76 737.18 L1878.99 743.69 L1875.22 750.2 L1871.44 756.71 L1867.65 763.21 L1863.86 769.72 L1860.08 776.23 L1856.28 782.74 L1852.49 789.25 L1848.7 795.76 L1844.91 802.26 L1841.12 808.77 L1837.33 815.28 L1833.55 821.79 L1829.76 828.3 L1825.98 834.81 L1822.21 841.32 L1818.44 847.82 L1814.68 854.33 L1810.92 860.84 L1807.17 867.35 L1803.43 873.86 L1799.7 880.37 L1795.98 886.87 L1792.26 893.38 L1788.56 899.89 L1784.87 906.4 L1781.19 912.91 L1777.52 919.42 L1773.87 925.92 L1770.23 932.43 L1766.6 938.94 L1762.99 945.45 L1759.4 951.96 L1755.82 958.47 L1752.27 964.97 L1748.72 971.48 L1745.2 977.99 L1741.7 984.5" fill="none" stroke="#000" stroke-width="4.6" stroke-linejoin="round" stroke-linecap="butt"/>
<path d="M2201.5 159.1 L2199.79 166.07 L2198.08 173.05 L2196.34 180.02 L2194.59 187 L2192.83 193.97 L2191.05 200.94 L2189.25 207.92 L2187.43 214.89 L2185.6 221.87 L2183.75 228.84 L2181.88 235.81 L2179.99 242.79 L2178.08 249.76 L2176.15 256.74 L2174.2 263.71 L2172.23 270.68 L2170.23 277.66 L2168.21 284.63 L2166.17 291.61 L2164.1 298.58 L2162.01 305.55 L2159.9 312.53 L2157.76 319.5 L2155.59 326.47 L2153.4 333.45 L2151.17 340.42 L2148.92 347.4 L2146.65 354.37 L2144.34 361.34 L2142 368.32 L2139.64 375.29 L2137.24 382.27 L2134.81 389.24 L2132.35 396.21 L2129.86 403.19 L2127.34 410.16 L2124.78 417.14 L2122.19 424.11 L2119.56 431.08 L2116.9 438.06 L2114.2 445.03 L2111.47 452.01 L2108.7 458.98 L2105.89 465.95 L2103.04 472.93 L2100.16 479.9 L2097.24 486.88 L2094.27 493.85 L2091.27 500.82 L2088.23 507.8 L2085.14 514.77 L2082.02 521.75 L2078.85 528.72 L2075.64 535.69 L2072.38 542.67 L2069.08 549.64 L2065.74 556.62 L2062.35 563.59 L2058.92 570.56 L2055.44 577.54 L2051.91 584.51 L2048.34 591.48 L2044.73 598.46 L2041.07 605.43 L2037.38 612.41 L2033.65 619.38 L2029.89 626.35 L2026.09 633.33 L2022.26 640.3 L2018.4 647.28 L2014.52 654.25 L2010.61 661.22 L2006.67 668.2 L2002.72 675.17 L1998.75 682.15 L1994.75 689.12 L1990.75 696.09 L1986.73 703.07 L1982.7 710.04 L1978.66 717.02 L1974.61 723.99 L1970.55 730.96 L1966.5 737.94 L1962.44 744.91 L1958.38 751.89 L1954.32 758.86 L1950.27 765.83 L1946.22 772.81 L1942.19 779.78 L1938.16 786.76 L1934.14 793.73 L1930.14 800.7 L1926.15 807.68 L1922.19 814.65 L1918.24 821.63 L1914.31 828.6 L1910.41 835.57 L1906.53 842.55 L1902.68 849.52 L1898.86 856.49 L1895.07 863.47 L1891.32 870.44 L1887.6 877.42 L1883.91 884.39 L1880.27 891.36 L1876.67 898.34 L1873.11 905.31 L1869.6 912.29 L1866.13 919.26 L1862.72 926.23 L1859.35 933.21 L1856.04 940.18 L1852.78 947.16 L1849.58 954.13 L1846.44 961.1 L1843.36 968.08 L1840.34 975.05 L1837.39 982.03 L1834.5 989" fill="none" stroke="#000" stroke-width="4.6" stroke-linejoin="round" stroke-linecap="butt"/>
<path d="M2232.4 159.1 L2231.66 166.72 L2230.89 174.35 L2230.11 181.97 L2229.31 189.59 L2228.49 197.21 L2227.65 204.84 L2226.78 212.46 L2225.89 220.08 L2224.98 227.7 L2224.05 235.33 L2223.09 242.95 L2222.11 250.57 L2221.1 258.19 L2220.06 265.82 L2219 273.44 L2217.91 281.06 L2216.79 288.69 L2215.64 296.31 L2214.46 303.93 L2213.25 311.55 L2212.01 319.18 L2210.74 326.8 L2209.43 334.42 L2208.09 342.04 L2206.72 349.67 L2205.32 357.29 L2203.87 364.91 L2202.4 372.54 L2200.88 380.16 L2199.33 387.78 L2197.74 395.4 L2196.12 403.03 L2194.45 410.65 L2192.74 418.27 L2191 425.89 L2189.21 433.52 L2187.38 441.14 L2185.5 448.76 L2183.59 456.38 L2181.63 464.01 L2179.63 471.63 L2177.58 479.25 L2175.48 486.88 L2173.34 494.5 L2171.15 502.12 L2168.91 509.74 L2166.63 517.37 L2164.29 524.99 L2161.91 532.61 L2159.47 540.23 L2156.99 547.86 L2154.45 555.48 L2151.86 563.1 L2149.22 570.73 L2146.52 578.35 L2143.77 585.97 L2140.96 593.59 L2138.1 601.22 L2135.18 608.84 L2132.2 616.46 L2129.17 624.08 L2126.07 631.71 L2122.93 639.33 L2119.72 646.95 L2116.47 654.57 L2113.16 662.2 L2109.81 669.82 L2106.41 677.44 L2102.96 685.07 L2099.47 692.69 L2095.94 700.31 L2092.38 707.93 L2088.77 715.56 L2085.13 723.18 L2081.45 730.8 L2077.74 738.42 L2074 746.05 L2070.24 753.67 L2066.44 761.29 L2062.62 768.92 L2058.78 776.54 L2054.92 784.16 L2051.04 791.78 L2047.14 799.41 L2043.23 807.03 L2039.3 814.65 L2035.36 822.27 L2031.41 829.9 L2027.45 837.52 L2023.49 845.14 L2019.52 852.76 L2015.55 860.39 L2011.58 868.01 L2007.61 875.63 L2003.64 883.26 L1999.68 890.88 L1995.72 898.5 L1991.78 906.12 L1987.84 913.75 L1983.92 921.37 L1980 928.99 L1976.11 936.61 L1972.23 944.24 L1968.37 951.86 L1964.54 959.48 L1960.72 967.11 L1956.94 974.73 L1953.17 982.35 L1949.44 989.97 L1945.74 997.6 L1942.07 1005.22 L1938.43 1012.84 L1934.84 1020.46 L1931.27 1028.09 L1927.75 1035.71 L1924.27 1043.33 L1920.84 1050.95 L1917.44 1058.58 L1914.1 1066.2" fill="none" stroke="#000" stroke-width="4.6" stroke-linejoin="round" stroke-linecap="butt"/>
<path d="M2254.8 159.1 L2254.2 165.78 L2253.6 172.47 L2253 179.15 L2252.41 185.84 L2251.81 192.52 L2251.22 199.2 L2250.63 205.89 L2250.03 212.57 L2249.44 219.26 L2248.85 225.94 L2248.25 232.62 L2247.65 239.31 L2247.05 245.99 L2246.45 252.68 L2245.84 259.36 L2245.24 266.04 L2244.62 272.73 L2244.01 279.41 L2243.39 286.1 L2242.76 292.78 L2242.13 299.46 L2241.49 306.15 L2240.85 312.83 L2240.2 319.52 L2239.54 326.2 L2238.88 332.88 L2238.21 339.57 L2237.53 346.25 L2236.84 352.94 L2236.14 359.62 L2235.43 366.31 L2234.72 372.99 L2233.99 379.67 L2233.25 386.36 L2232.5 393.04 L2231.74 399.73 L2230.97 406.41 L2230.18 413.09 L2229.39 419.78 L2228.58 426.46 L2227.75 433.15 L2226.91 439.83 L2226.06 446.51 L2225.2 453.2 L2224.31 459.88 L2223.42 466.57 L2222.5 473.25 L2221.57 479.93 L2220.63 486.62 L2219.66 493.3 L2218.68 499.99 L2217.68 506.67 L2216.67 513.35 L2215.63 520.04 L2214.57 526.72 L2213.5 533.41 L2212.4 540.09 L2211.29 546.77 L2210.15 553.46 L2209 560.14 L2207.82 566.83 L2206.62 573.51 L2205.39 580.19 L2204.15 586.88 L2202.88 593.56 L2201.58 600.25 L2200.27 606.93 L2198.93 613.61 L2197.56 620.3 L2196.18 626.98 L2194.77 633.67 L2193.34 640.35 L2191.88 647.03 L2190.4 653.72 L2188.9 660.4 L2187.38 667.09 L2185.84 673.77 L2184.28 680.45 L2182.69 687.14 L2181.08 693.82 L2179.46 700.51 L2177.81 707.19 L2176.14 713.87 L2174.45 720.56 L2172.74 727.24 L2171.01 733.93 L2169.27 740.61 L2167.5 747.29 L2165.71 753.98 L2163.91 760.66 L2162.08 767.35 L2160.24 774.03 L2158.38 780.72 L2156.5 787.4 L2154.6 794.08 L2152.68 800.77 L2150.75 807.45 L2148.81 814.14 L2146.85 820.82 L2144.88 827.5 L2142.89 834.19 L2140.9 840.87 L2138.89 847.56 L2136.88 854.24 L2134.86 860.92 L2132.84 867.61 L2130.8 874.29 L2128.77 880.98 L2126.73 887.66 L2124.69 894.34 L2122.65 901.03 L2120.6 907.71 L2118.56 914.4 L2116.52 921.08 L2114.49 927.76 L2112.46 934.45 L2110.43 941.13 L2108.41 947.82 L2106.4 954.5" fill="none" stroke="#000" stroke-width="4.6" stroke-linejoin="round" stroke-linecap="butt"/>
<path d="M2316.2 249 L2315.41 256.81 L2314.63 264.62 L2313.83 272.42 L2313.04 280.23 L2312.25 288.04 L2311.45 295.85 L2310.66 303.65 L2309.86 311.46 L2309.06 319.27 L2308.26 327.08 L2307.45 334.88 L2306.65 342.69 L2305.84 350.5 L2305.03 358.31 L2304.23 366.11 L2303.41 373.92 L2302.6 381.73 L2301.79 389.54 L2300.97 397.34 L2300.16 405.15 L2299.34 412.96 L2298.52 420.77 L2297.7 428.57 L2296.88 436.38 L2296.06 444.19 L2295.23 452 L2294.41 459.8 L2293.58 467.61 L2292.76 475.42 L2291.93 483.23 L2291.1 491.03 L2290.27 498.84 L2289.44 506.65 L2288.6 514.46 L2287.77 522.26 L2286.93 530.07 L2286.1 537.88 L2285.26 545.69 L2284.43 553.49 L2283.59 561.3 L2282.75 569.11 L2281.91 576.92 L2281.07 584.73 L2280.23 592.53 L2279.39 600.34 L2278.54 608.15 L2277.7 615.96 L2276.85 623.76 L2276.01 631.57 L2275.16 639.38 L2274.32 647.19 L2273.47 654.99 L2272.62 662.8 L2271.78 670.61 L2270.93 678.42 L2270.08 686.22 L2269.23 694.03 L2268.38 701.84 L2267.53 709.65 L2266.68 717.45 L2265.83 725.26 L2264.98 733.07 L2264.13 740.88 L2263.28 748.68 L2262.42 756.49 L2261.57 764.3 L2260.72 772.11 L2259.87 779.91 L2259.02 787.72 L2258.16 795.53 L2257.31 803.34 L2256.46 811.14 L2255.6 818.95 L2254.75 826.76 L2253.9 834.57 L2253.04 842.37 L2252.19 850.18 L2251.34 857.99 L2250.48 865.8 L2249.63 873.61 L2248.78 881.41 L2247.93 889.22 L2247.07 897.03 L2246.22 904.84 L2245.37 912.64 L2244.52 920.45 L2243.67 928.26 L2242.81 936.07 L2241.96 943.87 L2241.11 951.68 L2240.26 959.49 L2239.41 967.3 L2238.56 975.1 L2237.71 982.91 L2236.87 990.72 L2236.02 998.53 L2235.17 1006.33 L2234.32 1014.14 L2233.48 1021.95 L2232.63 1029.76 L2231.78 1037.56 L2230.94 1045.37 L2230.1 1053.18 L2229.25 1060.99 L2228.41 1068.79 L2227.57 1076.6 L2226.73 1084.41 L2225.89 1092.22 L2225.05 1100.02 L2224.21 1107.83 L2223.37 1115.64 L2222.53 1123.45 L2221.7 1131.25 L2220.86 1139.06 L2220.03 1146.87 L2219.19 1154.68 L2218.36 1162.48 L2217.53 1170.29 L2216.7 1178.1" fill="none" stroke="#000" stroke-width="4.6" stroke-linejoin="round" stroke-linecap="butt"/>
<path d="M2339.5 163V1040" stroke="#000" stroke-width="5" fill="none"/>
<rect x="819" y="419" width="30" height="30"/>
<rect x="729" y="623.7" width="30" height="30"/>
<rect x="699" y="690.5" width="30" height="30"/>
<rect x="680" y="719.4" width="30" height="30"/>
<rect x="666.7" y="741.8" width="30" height="30"/>
<rect x="658.5" y="771" width="30" height="30"/>
<rect x="647.8" y="778" width="30" height="30"/>
<rect x="626.4" y="810.8" width="30" height="30"/>
<rect x="620" y="837" width="30" height="30"/>
<rect x="607" y="851.5" width="30" height="30"/>
<rect x="580" y="895" width="30" height="30"/>
<rect x="570" y="910" width="30" height="30"/>
<rect x="555.5" y="936" width="30" height="30"/>
<rect x="515.3" y="1030.7" width="30" height="30"/>
<rect x="472" y="1129.6" width="30" height="30"/>
<rect x="387.6" y="227.7" width="30" height="30"/>
<path d="M812 564.2L827 589.8H797Z"/>
<path d="M793 600.7L808 626.3H778Z"/>
<path d="M784.7 655.2L799.7 680.8H769.7Z"/>
<path d="M754.8 696.2L769.8 721.8H739.8Z"/>
<path d="M727.7 739.6L742.7 765.2H712.7Z"/>
<path d="M713.8 753.8L728.8 779.4H698.8Z"/>
<path d="M681.5 802.2L696.5 827.8H666.5Z"/>
<path d="M659.7 835.2L674.7 860.8H644.7Z"/>
<path d="M643.6 860.2L658.6 885.8H628.6Z"/>
<path d="M627.8 889.2L642.8 914.8H612.8Z"/>
<path d="M611.3 911.2L626.3 936.8H596.3Z"/>
<path d="M599 933.7L614 959.3H584Z"/>
<path d="M570.4 977.2L585.4 1002.8H555.4Z"/>
<path d="M527.9 1080.2L542.9 1105.8H512.9Z"/>
<path d="M511 1117.2L526 1142.8H496Z"/>
<path d="M487 1179.2L502 1204.8H472Z"/>
<path d="M460 1245L475 1270.6H445Z"/>
<path d="M402.6 315.2L417.6 340.8H387.6Z"/>
<circle cx="1036" cy="167" r="15"/>
<circle cx="1006.7" cy="376" r="15"/>
<circle cx="990" cy="398.8" r="15"/>
<circle cx="943.75" cy="519" r="15"/>
<circle cx="933" cy="538.6" r="15"/>
<circle cx="898.2" cy="581.3" r="15"/>
<circle cx="879" cy="607" r="15"/>
<circle cx="760" cy="790" r="15"/>
<circle cx="679" cy="918.4" r="15"/>
<circle cx="654.6" cy="950.8" r="15"/>
<circle cx="627.4" cy="994.7" r="15"/>
<circle cx="582" cy="1071.4" r="15"/>
<circle cx="570" cy="1108.3" r="15"/>
<circle cx="533" cy="1184.6" r="15"/>
<circle cx="402.6" cy="402" r="15"/>
<circle cx="1999" cy="243.7" r="15"/>
<circle cx="1976" cy="296.4" r="15"/>
<circle cx="1928.9" cy="367.8" r="15"/>
<circle cx="1899" cy="424.9" r="15"/>
<circle cx="1883" cy="449" r="15"/>
<circle cx="1873" cy="478" r="15"/>
<circle cx="1856" cy="488" r="15"/>
<circle cx="1836.9" cy="520.3" r="15"/>
<circle cx="1830.7" cy="544.4" r="15"/>
<circle cx="1817.8" cy="555.5" r="15"/>
<circle cx="1794.8" cy="602.5" r="15"/>
<circle cx="1778.8" cy="630.3" r="15"/>
<circle cx="1752.2" cy="669" r="15"/>
<circle cx="1726" cy="715.3" r="15"/>
<circle cx="1721" cy="736.4" r="15"/>
<circle cx="1702" cy="759.8" r="15"/>
<circle cx="1663" cy="836" r="15"/>
<circle cx="1613.8" cy="945.9" r="15"/>
<circle cx="1618" cy="124.5" r="15"/>
<rect x="2067" y="177" width="30" height="30"/>
<rect x="2017" y="281.4" width="30" height="30"/>
<rect x="2005.3" y="324.2" width="30" height="30"/>
<rect x="1979" y="352.8" width="30" height="30"/>
<rect x="1967" y="405.8" width="30" height="30"/>
<rect x="1924" y="438.8" width="30" height="30"/>
<rect x="1921" y="458" width="30" height="30"/>
<rect x="1909" y="487" width="30" height="30"/>
<rect x="1897" y="505.6" width="30" height="30"/>
<rect x="1885.5" y="529.4" width="30" height="30"/>
<rect x="1882" y="548.7" width="30" height="30"/>
<rect x="1863" y="572.8" width="30" height="30"/>
<rect x="1847.2" y="606.4" width="30" height="30"/>
<rect x="1832" y="639.4" width="30" height="30"/>
<rect x="1824" y="654" width="30" height="30"/>
<rect x="1793" y="667.9" width="30" height="30"/>
<rect x="1789" y="716" width="30" height="30"/>
<rect x="1774" y="716" width="30" height="30"/>
<rect x="1747.1" y="763.5" width="30" height="30"/>
<rect x="1728" y="787.4" width="30" height="30"/>
<rect x="1708.5" y="825.4" width="30" height="30"/>
<rect x="1607" y="175.4" width="30" height="30"/>
<path d="M2127 227.2L2142 252.8H2112Z"/>
<path d="M2072 351.8L2087 377.4H2057Z"/>
<path d="M2049 408.7L2064 434.3H2034Z"/>
<path d="M2037 432.8L2052 458.4H2022Z"/>
<path d="M2030 450.8L2045 476.4H2015Z"/>
<path d="M2018.3 485L2033.3 510.6H2003.3Z"/>
<path d="M2003 508.5L2018 534.1H1988Z"/>
<path d="M1991 495.2L2006 520.8H1976Z"/>
<path d="M1991 531.9L2006 557.5H1976Z"/>
<path d="M1971.9 528.2L1986.9 553.8H1956.9Z"/>
<path d="M1956 561.2L1971 586.8H1941Z"/>
<path d="M1948.4 595L1963.4 620.6H1933.4Z"/>
<path d="M1940.8 618.2L1955.8 643.8H1925.8Z"/>
<path d="M1933 638.2L1948 663.8H1918Z"/>
<path d="M1925.3 657.7L1940.3 683.3H1910.3Z"/>
<path d="M1917.7 676L1932.7 701.6H1902.7Z"/>
<path d="M1906.4 681L1921.4 706.6H1891.4Z"/>
<path d="M1887 708.9L1902 734.5H1872Z"/>
<path d="M1867.2 708.9L1882.2 734.5H1852.2Z"/>
<path d="M1879 738.2L1894 763.8H1864Z"/>
<path d="M1849.3 775.9L1864.3 801.5H1834.3Z"/>
<path d="M1817.5 804.2L1832.5 829.8H1802.5Z"/>
<path d="M1798 837.9L1813 863.5H1783Z"/>
<path d="M1779 885.5L1794 911.1H1764Z"/>
<path d="M1759.7 924L1774.7 949.6H1744.7Z"/>
<path d="M1622 228.2L1637 253.8H1607Z"/>
<path d="M2182.4 178.5H2212.4L2197.4 203.5Z"/>
<path d="M2131.4 359.7H2161.4L2146.4 384.7Z"/>
<path d="M2135.2 402.7H2165.2L2150.2 427.7Z"/>
<path d="M2069.9 512.7H2099.9L2084.9 537.7Z"/>
<path d="M2046.2 564.7H2076.2L2061.2 589.7Z"/>
<path d="M2027.1 603.1H2057.1L2042.1 628.1Z"/>
<path d="M1988.5 689.1H2018.5L2003.5 714.1Z"/>
<path d="M1965.6 703H1995.6L1980.6 728Z"/>
<path d="M1927 760.1H1957L1942 785.1Z"/>
<path d="M1923 788.9H1953L1938 813.9Z"/>
<path d="M1893 836.5H1923L1908 861.5Z"/>
<path d="M1846 922.5H1876L1861 947.5Z"/>
<path d="M1607.3 298.9H1637.3L1622.3 323.9Z"/>
<path d="M2226.1 175.7L2241.1 190.7L2226.1 205.7L2211.1 190.7Z"/>
<path d="M2198 352.7L2213 367.7L2198 382.7L2183 367.7Z"/>
<path d="M2190.4 410.6L2205.4 425.6L2190.4 440.6L2175.4 425.6Z"/>
<path d="M2183 453.4L2198 468.4L2183 483.4L2168 468.4Z"/>
<path d="M2174.8 491.7L2189.8 506.7L2174.8 521.7L2159.8 506.7Z"/>
<path d="M2151 534.5L2166 549.5L2151 564.5L2136 549.5Z"/>
<path d="M2166 524L2181 539L2166 554L2151 539Z"/>
<path d="M2163 548.5L2178 563.5L2163 578.5L2148 563.5Z"/>
<path d="M2147 577.8L2162 592.8L2147 607.8L2132 592.8Z"/>
<path d="M2139.4 601.5L2154.4 616.5L2139.4 631.5L2124.4 616.5Z"/>
<path d="M2123.7 634.6L2138.7 649.6L2123.7 664.6L2108.7 649.6Z"/>
<path d="M2108.6 658.9L2123.6 673.9L2108.6 688.9L2093.6 673.9Z"/>
<path d="M2100.9 687.2L2115.9 702.2L2100.9 717.2L2085.9 702.2Z"/>
<path d="M2077.7 710.8L2092.7 725.8L2077.7 740.8L2062.7 725.8Z"/>
<path d="M2093 711.4L2108 726.4L2093 741.4L2078 726.4Z"/>
<path d="M2077.7 739.9L2092.7 754.9L2077.7 769.9L2062.7 754.9Z"/>
<path d="M2066.2 768.6L2081.2 783.6L2066.2 798.6L2051.2 783.6Z"/>
<path d="M2050.9 801.7L2065.9 816.7L2050.9 831.7L2035.9 816.7Z"/>
<path d="M2019.9 854.5L2034.9 869.5L2019.9 884.5L2004.9 869.5Z"/>
<path d="M1996.4 892.6L2011.4 907.6L1996.4 922.6L1981.4 907.6Z"/>
<path d="M1970 945.6L1985 960.6L1970 975.6L1955 960.6Z"/>
<path d="M1949.9 973.5L1964.9 988.5L1949.9 1003.5L1934.9 988.5Z"/>
<path d="M1622 361.8L1637 376.8L1622 391.8L1607 376.8Z"/>
<path d="M2254.5 171.5L2258.14 181.68L2268.96 182L2260.4 188.62L2263.43 199L2254.5 192.9L2245.57 199L2248.6 188.62L2240.04 182L2250.86 181.68Z"/>
<path d="M2230.5 352.4L2234.14 362.58L2244.96 362.9L2236.4 369.52L2239.43 379.9L2230.5 373.8L2221.57 379.9L2224.6 369.52L2216.04 362.9L2226.86 362.58Z"/>
<path d="M2222.2 495.8L2225.84 505.98L2236.66 506.3L2228.1 512.92L2231.13 523.3L2222.2 517.2L2213.27 523.3L2216.3 512.92L2207.74 506.3L2218.56 505.98Z"/>
<path d="M2199.2 524.4L2202.84 534.58L2213.66 534.9L2205.1 541.52L2208.13 551.9L2199.2 545.8L2190.27 551.9L2193.3 541.52L2184.74 534.9L2195.56 534.58Z"/>
<path d="M2202.5 581.6L2206.14 591.78L2216.96 592.1L2208.4 598.72L2211.43 609.1L2202.5 603L2193.57 609.1L2196.6 598.72L2188.04 592.1L2198.86 591.78Z"/>
<path d="M2198.1 639.4L2201.74 649.58L2212.56 649.9L2204 656.52L2207.03 666.9L2198.1 660.8L2189.17 666.9L2192.2 656.52L2183.64 649.9L2194.46 649.58Z"/>
<path d="M2183 662.8L2186.64 672.98L2197.46 673.3L2188.9 679.92L2191.93 690.3L2183 684.2L2174.07 690.3L2177.1 679.92L2168.54 673.3L2179.36 672.98Z"/>
<path d="M2164.3 695.8L2167.94 705.98L2178.76 706.3L2170.2 712.92L2173.23 723.3L2164.3 717.2L2155.37 723.3L2158.4 712.92L2149.84 706.3L2160.66 705.98Z"/>
<path d="M2164.3 710.5L2167.94 720.68L2178.76 721L2170.2 727.62L2173.23 738L2164.3 731.9L2155.37 738L2158.4 727.62L2149.84 721L2160.66 720.68Z"/>
<path d="M2127.5 872.8L2131.14 882.98L2141.96 883.3L2133.4 889.92L2136.43 900.3L2127.5 894.2L2118.57 900.3L2121.6 889.92L2113.04 883.3L2123.86 882.98Z"/>
<path d="M1621.3 435.3L1624.94 445.48L1635.76 445.8L1627.2 452.42L1630.23 462.8L1621.3 456.7L1612.37 462.8L1615.4 452.42L1606.84 445.8L1617.66 445.48Z"/>
<rect x="2289.3" y="350.9" width="25" height="25" fill="none" stroke="#000" stroke-width="5"/>
<rect x="2276.9" y="536.9" width="25" height="25" fill="none" stroke="#000" stroke-width="5"/>
<rect x="2260.9" y="718.9" width="25" height="25" fill="none" stroke="#000" stroke-width="5"/>
<rect x="2259.5" y="827.9" width="25" height="25" fill="none" stroke="#000" stroke-width="5"/>
<rect x="2237.2" y="851.5" width="25" height="25" fill="none" stroke="#000" stroke-width="5"/>
<rect x="2240.4" y="866.5" width="25" height="25" fill="none" stroke="#000" stroke-width="5"/>
<rect x="2224.4" y="1004.4" width="25" height="25" fill="none" stroke="#000" stroke-width="5"/>
<rect x="2209.3" y="1104.8" width="25" height="25" fill="none" stroke="#000" stroke-width="5"/>
<rect x="1609.5" y="1107.9" width="25" height="25" fill="none" stroke="#000" stroke-width="5"/>
<path d="M2332 175.24L2343.4 198.8H2320.6Z" fill="none" stroke="#000" stroke-width="4.6" stroke-linejoin="miter"/>
<path d="M2334.8 346.44L2346.2 370H2323.4Z" fill="none" stroke="#000" stroke-width="4.6" stroke-linejoin="miter"/>
<path d="M2338.4 528.34L2349.8 551.9H2327Z" fill="none" stroke="#000" stroke-width="4.6" stroke-linejoin="miter"/>
<path d="M2337 704.14L2348.4 727.7H2325.6Z" fill="none" stroke="#000" stroke-width="4.6" stroke-linejoin="miter"/>
<path d="M2339.5 902.04L2350.9 925.6H2328.1Z" fill="none" stroke="#000" stroke-width="4.6" stroke-linejoin="miter"/>
<path d="M1622.5 1173.34L1633.9 1196.9H1611.1Z" fill="none" stroke="#000" stroke-width="4.6" stroke-linejoin="miter"/>
</svg></body></html>
